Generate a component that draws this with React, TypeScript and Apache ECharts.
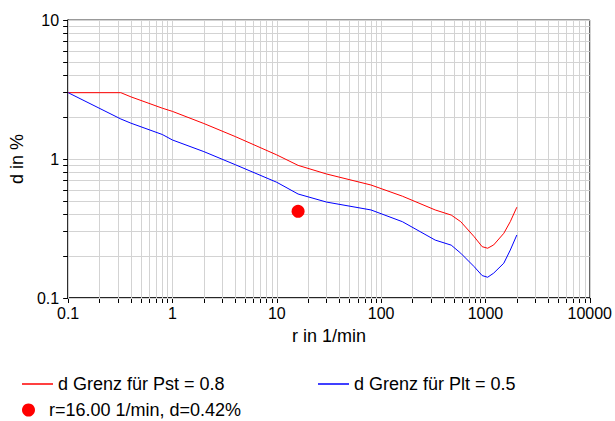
import React, { useEffect, useRef } from "react";
import * as echarts from "echarts";

const rValues = [0.1, 0.32, 0.4, 0.8, 1, 2, 4, 10, 16, 30, 80, 160, 330, 470, 580, 780, 930, 1050, 1200, 1500, 1730, 2000];
const dPst = [3, 3, 2.8, 2.32, 2.2, 1.8, 1.45, 1.07, 0.9, 0.78, 0.65, 0.54, 0.43, 0.395, 0.354, 0.276, 0.234, 0.228, 0.241, 0.292, 0.354, 0.45];
const dPlt = [3, 1.94, 1.81, 1.5, 1.37, 1.13, 0.91, 0.68, 0.56, 0.49, 0.43, 0.354, 0.261, 0.24, 0.21, 0.168, 0.145, 0.141, 0.151, 0.178, 0.221, 0.284];
const measuredPoint = [16, 0.42];

const xLabels = [0.1, 1, 10, 100, 1000, 10000];
const yLabels = [0.1, 1, 10];
const xTicks = [0.1, 0.2, 0.3, 0.4, 0.5, 0.6, 0.7, 0.8, 0.9, 1, 2, 3, 4, 5, 6, 7, 8, 9, 10, 20, 30, 40, 50, 60, 70, 80, 90, 100, 200, 300, 400, 500, 600, 700, 800, 900, 1000, 2000, 3000, 4000, 5000, 6000, 7000, 8000, 9000, 10000];
const yTicks = [0.1, 0.2, 0.3, 0.4, 0.5, 0.6, 0.7, 0.8, 0.9, 1, 2, 3, 4, 5, 6, 7, 8, 9, 10];

const nameRed = "d Grenz für Pst = 0.8";
const nameBlue = "d Grenz für Plt = 0.5";
const nameDot = "r=16.00 1/min, d=0.42%";

const FONT = "'Liberation Sans', Arial, sans-serif";

export default function App() {
  const ref = useRef<HTMLDivElement>(null);
  useEffect(() => {
    if (!ref.current) return;
    const chart = echarts.init(ref.current, null, { renderer: "svg" });
    const gridLines = [
      ...xTicks.map((v) => ({ xAxis: v })),
      ...yTicks.map((v) => ({ yAxis: v })),
    ];
    const legendText = { color: "#000", fontSize: 18, fontFamily: FONT };
    chart.setOption({
      animation: false,
      textStyle: { fontFamily: FONT },
      grid: {
        left: 62,
        top: 20,
        right: 25,
        bottom: 123,
        show: true,
        borderColor: "#333",
        borderWidth: 1,
        backgroundColor: "transparent",
      },
      legend: [
        {
          data: [{ name: nameRed, icon: "rect" }],
          left: 22,
          top: 375,
          padding: 0,
          itemWidth: 31,
          itemHeight: 1.5,
          textStyle: legendText,
          selectedMode: false,
        },
        {
          data: [{ name: nameBlue, icon: "rect" }],
          left: 318,
          top: 375,
          padding: 0,
          itemWidth: 31,
          itemHeight: 1.5,
          textStyle: legendText,
          selectedMode: false,
        },
        {
          data: [{ name: nameDot, icon: "circle" }],
          left: 22,
          top: 401,
          padding: 0,
          itemWidth: 31,
          itemHeight: 13,
          textStyle: legendText,
          selectedMode: false,
        },
      ],
      xAxis: {
        type: "log",
        logBase: 10,
        min: 0.1,
        max: 10000,
        name: "r in 1/min",
        nameLocation: "middle",
        nameGap: 29,
        nameTextStyle: { color: "#000", fontSize: 18, fontFamily: FONT },
        axisLine: { show: true, lineStyle: { color: "#000", width: 1.5 } },
        axisTick: { show: true, inside: false, length: 5, customValues: xTicks, lineStyle: { color: "#000", width: 1 } },
        axisLabel: {
          customValues: xLabels,
          color: "#000",
          fontSize: 16,
          fontFamily: FONT,
          margin: 7,
          formatter: (v: number) => String(v),
        },
        splitLine: { show: false },
        minorTick: { show: false },
      },
      yAxis: {
        type: "log",
        logBase: 10,
        min: 0.1,
        max: 10,
        name: "d in %",
        nameLocation: "middle",
        nameGap: 33,
        nameTextStyle: { color: "#000", fontSize: 18, fontFamily: FONT },
        axisLine: { show: true, lineStyle: { color: "#000", width: 1.5 } },
        axisTick: { show: true, inside: false, length: 5, customValues: yTicks, lineStyle: { color: "#000", width: 1 } },
        axisLabel: {
          customValues: yLabels,
          color: "#000",
          fontSize: 16,
          fontFamily: FONT,
          margin: 9,
          formatter: (v: number) => String(v),
        },
        splitLine: { show: false },
        minorTick: { show: false },
      },
      series: [
        {
          name: "grid",
          type: "line",
          data: [],
          silent: true,
          z: 1,
          markLine: {
            silent: true,
            z: 1,
            symbol: "none",
            label: { show: false },
            emphasis: { disabled: true },
            lineStyle: { color: "#d3d3d3", width: 1, type: "solid" },
            data: gridLines,
            animation: false,
          },
        },
        {
          name: nameRed,
          type: "line",
          data: rValues.map((r, i) => [r, dPst[i]]),
          symbol: "none",
          lineStyle: { color: "#ff0000", width: 1 },
          itemStyle: { color: "#ff0000" },
          z: 3,
        },
        {
          name: nameBlue,
          type: "line",
          data: rValues.map((r, i) => [r, dPlt[i]]),
          symbol: "none",
          lineStyle: { color: "#0000ff", width: 1 },
          itemStyle: { color: "#0000ff" },
          z: 3,
        },
        {
          name: nameDot,
          type: "scatter",
          data: [measuredPoint],
          symbol: "circle",
          symbolSize: 13,
          itemStyle: { color: "#ff0000", opacity: 1 },
          z: 4,
        },
      ],
    });
    return () => chart.dispose();
  }, []);
  return <div ref={ref} style={{ width: 615, height: 421, position: "absolute", left: 0, top: 0 }} />;
}
